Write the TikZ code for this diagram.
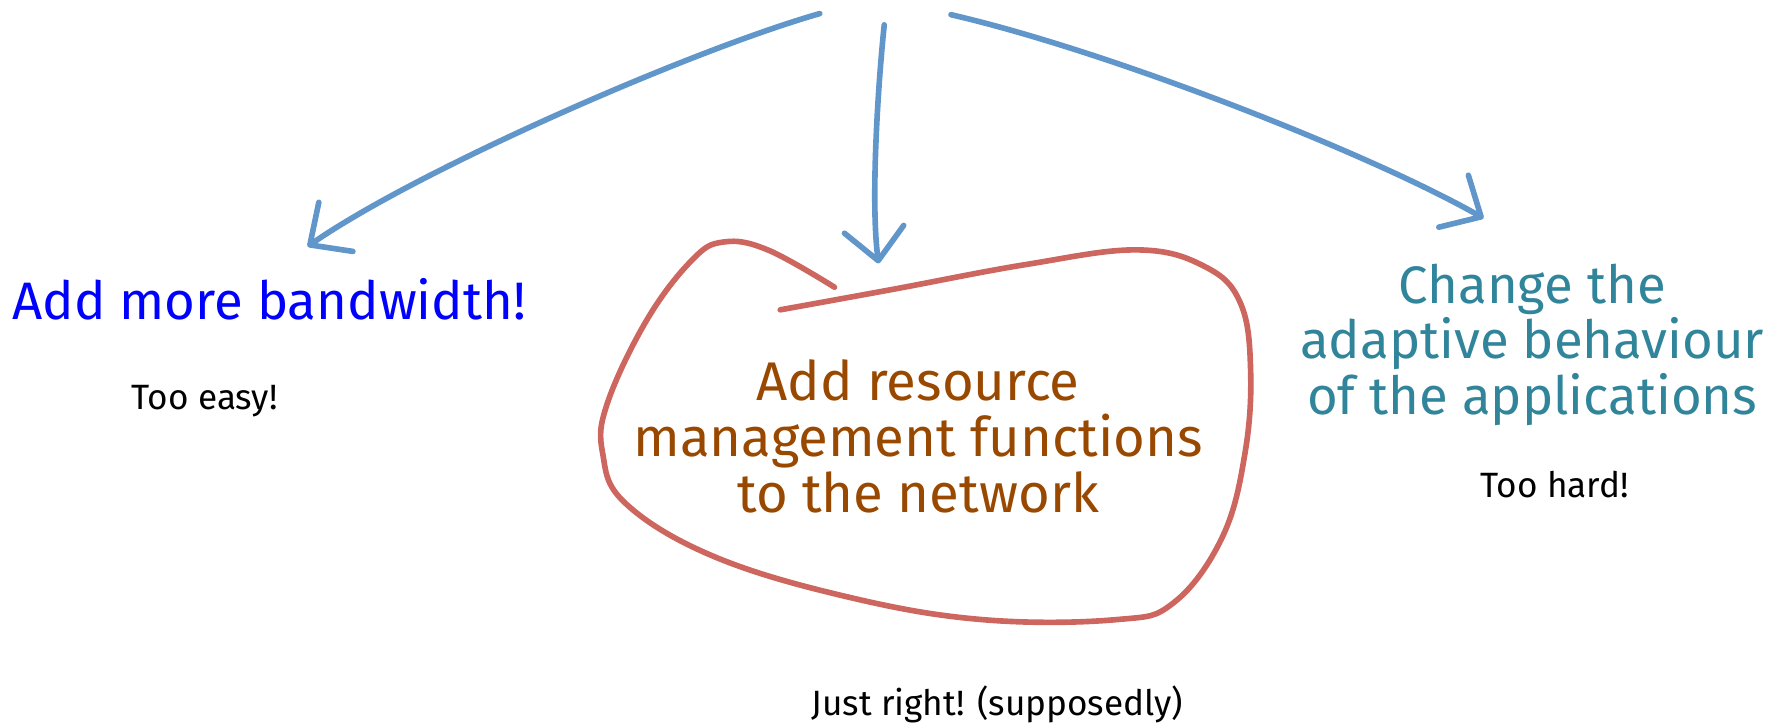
\documentclass[tikz,border=0pt]{standalone}
\usepackage{fontspec}
\setmainfont{Fira Sans}
\usepackage{tikz}
\usetikzlibrary{arrows.meta, positioning}
\definecolor{arrowblue}{RGB}{96,150,202}
\definecolor{blobred}{RGB}{205,102,94}
\definecolor{textbrown}{RGB}{153,72,0}
\definecolor{textteal}{RGB}{49,133,155}
\tikzstyle{choice} = [align=center, inner sep=0pt, font=\fontsize{31}{32}\selectfont]
\tikzstyle{remark} = [inner sep=0pt, font=\fontsize{20}{22}\selectfont]
\tikzstyle{sketch} = [line width=3.2pt, arrowblue, line cap=round, line join=round, -{Straight Barb[length=18pt, width=34pt, round]}]
\tikzstyle{bubble} = [line width=3.2pt, blobred, line cap=round, line join=round]

\begin{document}
\begin{tikzpicture}[x=0.022614cm, y=-0.022614cm]
	\useasboundingbox (0,0) rectangle (1568,643);

	% Options
	\node (more_bw) [choice, anchor=base, text=blue, font=\fontsize{30}{31}\selectfont] at (238,283) {Add more bandwidth!};
	\node (easy) [remark, anchor=base] at (181,362) {Too easy!};
	\node (resource_mgmt) [choice, text=textbrown] at (812,386) {Add resource\\management functions\\to the network};
	\node (adaptive) [choice, text=textteal, font=\fontsize{30}{31.5}\selectfont] at (1355,305) {Change the\\adaptive behaviour\\of the applications};
	\node (hard) [remark, anchor=base] at (1375,440) {Too hard!};
	\node (right) [remark, anchor=base] at (882,633) {Just right! (supposedly)};

	% Arrow ends
	\coordinate (src_left) at (725,12);
	\coordinate (src_mid) at (782,22);
	\coordinate (src_right) at (841,13);
	\coordinate (tip_left) at (272,218);
	\coordinate (tip_mid) at (777,233);
	\coordinate (tip_right) at (1312,193);

	% Arrows
	\draw[sketch] (src_left) .. controls (610,45) and (370,150) .. (tip_left);
	\draw[sketch] (src_mid) .. controls (776,80) and (770,180) .. (tip_mid);
	\draw[sketch] (src_right) .. controls (980,45) and (1210,135) .. (tip_right);

	% Bubble round the middle option
	\draw[bubble] plot[smooth, tension=0.65] coordinates {(690,274) (789,256) (907,234) (1006,221) (1066,236) (1097,268) (1106,327) (1101,401) (1081,475) (1038,533) (987,548) (869,548) (750,528) (631,492) (553,445) (533,401) (537,357) (572,283) (612,230) (640,214) (679,221) (738,254)};

\end{tikzpicture}
\end{document}
